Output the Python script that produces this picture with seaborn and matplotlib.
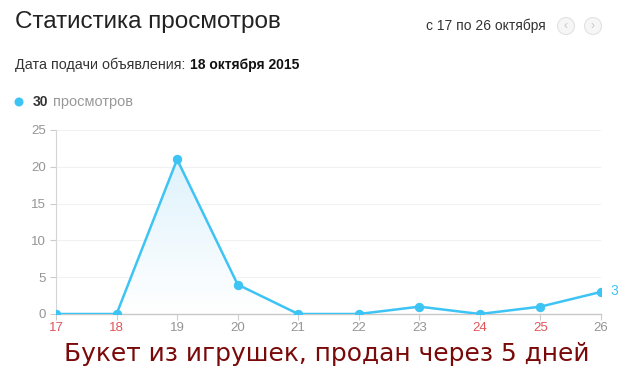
import numpy as np
import pandas as pd
import matplotlib
matplotlib.use("Agg")
import matplotlib.pyplot as plt
import seaborn as sns
from matplotlib.patches import Polygon, Circle
from matplotlib.colors import LinearSegmentedColormap

days = [17, 18, 19, 20, 21, 22, 23, 24, 25, 26]
views = [0, 0, 21, 4, 0, 0, 1, 0, 1, 3]
weekend_days = [17, 18, 24, 25]
yticks = [0, 5, 10, 15, 20, 25]

sns.set_theme(style="white")
plt.rcParams['font.family'] = ['Liberation Sans', 'DejaVu Sans']

BLUE = "#3ec4f4"
GREY = "#959595"
RED = "#e0555a"

fig = plt.figure(figsize=(6.41, 3.76), dpi=100)
ax = fig.add_axes([56/641, 1-314/376, (601-56)/641, (314-130)/376])

df = pd.DataFrame({"day": days, "views": views})

# gradient fill under the line
grad = np.linspace(0, 1, 256).reshape(-1, 1)
cmap = LinearSegmentedColormap.from_list("g", ["#ffffff", "#dff2fc"])
im = ax.imshow(grad, extent=[days[0], days[-1], 0, max(views)], origin="lower",
               aspect="auto", cmap=cmap, zorder=1)
poly = Polygon(list(zip(days, views)) + [(days[-1], 0), (days[0], 0)],
               closed=True, facecolor="none", edgecolor="none", transform=ax.transData)
ax.add_patch(poly)
im.set_clip_path(poly)

sns.lineplot(data=df, x="day", y="views", ax=ax, color=BLUE, linewidth=1.8,
             marker="o", markersize=6, markeredgecolor=BLUE, zorder=3)

ax.set_xlim(days[0], days[-1])
ax.set_ylim(0, 25)
ax.set_xticks(days)
ax.set_xticklabels([str(d) for d in days])
for lbl, d in zip(ax.get_xticklabels(), days):
    lbl.set_color(RED if d in weekend_days else GREY)
ax.set_yticks(yticks)
ax.set_yticklabels([str(v) for v in yticks], color=GREY)
ax.tick_params(axis="both", labelsize=9.5)
ax.tick_params(axis="y", length=4, color="#cccccc", width=0.8, pad=3, left=True)
ax.tick_params(axis="x", length=4, color="#cccccc", width=0.8, pad=2, bottom=True)
ax.set_xlabel("")
ax.set_ylabel("")
for v in yticks[1:]:
    ax.axhline(v, color="#f1f1f1", linewidth=0.8, zorder=0)
for s in ["top", "right"]:
    ax.spines[s].set_visible(False)
ax.spines["left"].set_color("#d5d5d5")
ax.spines["bottom"].set_color("#c8c8c8")
ax.spines["left"].set_linewidth(0.8)
ax.spines["bottom"].set_linewidth(1.0)

ax.annotate(str(views[-1]), xy=(days[-1], views[-1]), xytext=(7, 1),
            textcoords="offset points", color=BLUE, fontsize=10, va="center",
            annotation_clip=False)

W, H = 641, 376
# header texts
fig.text(15/W, 1-22/H, "Статистика просмотров", fontsize=17.5, color="#222222", va="center")
fig.text(546/W, 1-26/H, "с 17 по 26 октября", fontsize=10, color="#333333", va="center", ha="right")
for cx, ch in [(566, "‹"), (593, "›")]:
    c = Circle((cx/100, (H-26)/100), 0.085, transform=fig.dpi_scale_trans,
               facecolor="#f6f6f6", edgecolor="#e2e2e2", linewidth=0.8)
    fig.patches.append(c)
    fig.text(cx/W, 1-26.5/H, ch, fontsize=9, color="#c8c8c8", ha="center", va="center")

fig.canvas.draw()
renderer = fig.canvas.get_renderer()
t1 = fig.text(15/W, 1-65/H, "Дата подачи объявления:", fontsize=10.3, color="#333333", va="center")
bb = t1.get_window_extent(renderer)
fig.text((bb.x1 + 5)/W, 1-65/H, "18 октября 2015", fontsize=10, color="#111111",
         va="center", fontweight="bold")
legend_dot = Circle((19/100, (H-102)/100), 0.045, transform=fig.dpi_scale_trans,
                    facecolor=BLUE, edgecolor="none")
fig.patches.append(legend_dot)
t2 = fig.text(33/W, 1-102/H, "30", fontsize=10, color="#333333", va="center", fontweight="bold")
bb2 = t2.get_window_extent(renderer)
fig.text((bb2.x1 + 4)/W, 1-102/H, "просмотров", fontsize=10.5, color="#999999", va="center")

fig.text(327/W, 1-354/H, "Букет из игрушек, продан через 5 дней", fontsize=17.9,
         color="#7a0a0a", ha="center", va="center", family=["DejaVu Sans"])

fig.savefig("out.png", dpi=100)
